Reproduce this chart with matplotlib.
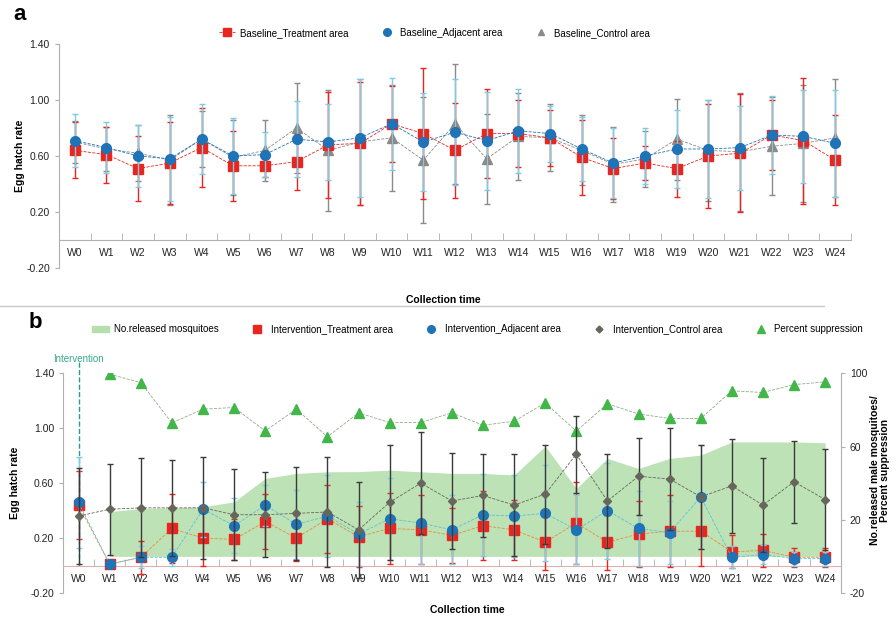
import numpy as np
import matplotlib
matplotlib.use('Agg')
import matplotlib.pyplot as plt
from matplotlib.lines import Line2D
from matplotlib.patches import Patch
from matplotlib.ticker import FixedLocator, FormatStrFormatter

plt.rcParams['font.family'] = ['Liberation Sans', 'DejaVu Sans']
plt.rcParams['axes.unicode_minus'] = False

weeks = ['W0', 'W1', 'W2', 'W3', 'W4', 'W5', 'W6', 'W7', 'W8', 'W9', 'W10', 'W11', 'W12',
         'W13', 'W14', 'W15', 'W16', 'W17', 'W18', 'W19', 'W20', 'W21', 'W22', 'W23', 'W24']

# panel a - baseline egg hatch rate (mean, error)
base_treat = [0.64, 0.61, 0.51, 0.55, 0.66, 0.53, 0.53, 0.56, 0.68, 0.69, 0.83, 0.76, 0.64,
              0.76, 0.76, 0.73, 0.59, 0.51, 0.55, 0.51, 0.60, 0.62, 0.75, 0.71, 0.57]
base_treat_err = [0.20, 0.20, 0.23, 0.29, 0.28, 0.25, 0.08, 0.20, 0.38, 0.44, 0.27, 0.47, 0.34,
                  0.32, 0.24, 0.20, 0.27, 0.22, 0.12, 0.20, 0.37, 0.42, 0.25, 0.45, 0.32]
base_adj = [0.71, 0.66, 0.60, 0.58, 0.72, 0.60, 0.61, 0.72, 0.70, 0.73, 0.83, 0.70, 0.77,
            0.71, 0.78, 0.76, 0.65, 0.55, 0.60, 0.65, 0.65, 0.66, 0.75, 0.74, 0.69]
base_adj_err = [0.19, 0.18, 0.22, 0.30, 0.25, 0.27, 0.16, 0.27, 0.27, 0.42, 0.33, 0.35, 0.38,
                0.35, 0.30, 0.20, 0.23, 0.25, 0.20, 0.28, 0.35, 0.30, 0.28, 0.33, 0.38]
base_ctrl = [0.70, 0.65, 0.62, 0.57, 0.72, 0.59, 0.64, 0.80, 0.64, 0.70, 0.73, 0.57, 0.83,
             0.58, 0.74, 0.73, 0.64, 0.54, 0.58, 0.72, 0.64, 0.63, 0.67, 0.69, 0.73]
base_ctrl_err = [0.15, 0.16, 0.20, 0.32, 0.20, 0.27, 0.22, 0.32, 0.43, 0.45, 0.38, 0.45, 0.43,
                 0.32, 0.31, 0.24, 0.25, 0.27, 0.20, 0.29, 0.36, 0.42, 0.35, 0.42, 0.42]

# panel b - intervention egg hatch rate (mean, error)
int_treat = [0.44, 0.01, 0.06, 0.27, 0.20, 0.19, 0.32, 0.20, 0.34, 0.21, 0.27, 0.26, 0.22,
             0.29, 0.26, 0.17, 0.31, 0.17, 0.23, 0.25, 0.25, 0.10, 0.11, 0.06, 0.06]
int_treat_err = [0.25, 0.02, 0.12, 0.25, 0.20, 0.15, 0.20, 0.17, 0.25, 0.22, 0.26, 0.25, 0.20,
                 0.25, 0.22, 0.20, 0.30, 0.20, 0.24, 0.26, 0.25, 0.12, 0.12, 0.07, 0.07]
int_adj = [0.46, 0.01, 0.06, 0.06, 0.41, 0.29, 0.44, 0.30, 0.36, 0.23, 0.34, 0.31, 0.26,
           0.37, 0.36, 0.38, 0.26, 0.40, 0.27, 0.24, 0.50, 0.06, 0.08, 0.05, 0.05]
int_adj_err = [0.33, 0.02, 0.08, 0.06, 0.20, 0.20, 0.15, 0.25, 0.30, 0.23, 0.30, 0.30, 0.25,
               0.30, 0.30, 0.35, 0.25, 0.35, 0.27, 0.23, 0.38, 0.08, 0.07, 0.05, 0.05]
int_ctrl = [0.36, 0.41, 0.42, 0.42, 0.42, 0.37, 0.37, 0.38, 0.39, 0.26, 0.46, 0.60, 0.47,
            0.51, 0.44, 0.52, 0.81, 0.47, 0.65, 0.63, 0.50, 0.58, 0.44, 0.61, 0.48]
int_ctrl_err = [0.35, 0.33, 0.36, 0.35, 0.37, 0.33, 0.31, 0.34, 0.40, 0.35, 0.42, 0.37, 0.35,
                0.30, 0.37, 0.36, 0.28, 0.34, 0.28, 0.37, 0.38, 0.34, 0.34, 0.30, 0.37]

# right axis, W1..W24
released = [24.4, 26.2, 26.5, 27.1, 29.8, 42.6, 45.3, 46.2, 46.3, 47.1, 46.2, 45.3,
            45.3, 44.4, 60.2, 37.1, 53.5, 48.0, 53.5, 55.3, 62.5, 62.5, 62.5, 62.0]
suppression = [99.5, 94.9, 72.9, 80.4, 81.3, 68.5, 80.4, 65.3, 78.4, 73.1, 73.1, 78.4,
               71.6, 73.8, 83.8, 68.4, 83.3, 77.8, 75.3, 75.3, 90.4, 89.5, 93.8, 95.3]

x = np.arange(len(weeks))
xr = x[1:]

RED = '#e8261f'
BLUE = '#1f73b7'
CYAN = '#7fcbe3'
GREY = '#8a8a8a'
DGREY = '#66665c'
GREEN = '#43b649'
FILL = '#b6dfae'
AXC = '#b0b0b0'
FS = 7

fig = plt.figure(figsize=(8.96, 6.19), dpi=100)
ax = fig.add_axes([0.0658, 0.567, 0.884, 0.362])
bx = fig.add_axes([0.0703, 0.042, 0.868, 0.355])


def style_axis(a):
    a.set_xlim(-0.5, 24.5)
    a.set_ylim(-0.2, 1.4)
    a.spines['top'].set_visible(False)
    a.spines['right'].set_visible(False)
    a.spines['bottom'].set_position(('data', 0))
    for s in ['left', 'bottom']:
        a.spines[s].set_color(AXC)
    a.set_xticks(x)
    a.set_xticklabels(weeks, fontsize=7.5, color='#222222')
    a.xaxis.set_minor_locator(FixedLocator(np.arange(-0.5, 25, 1)))
    a.tick_params(axis='x', which='major', length=0, pad=6)
    a.tick_params(axis='x', which='minor', length=5, direction='in', color=AXC)
    a.set_yticks([-0.2, 0.2, 0.6, 1.0, 1.4])
    a.yaxis.set_major_formatter(FormatStrFormatter('%.2f'))
    a.tick_params(axis='y', length=3, color=AXC, labelsize=7.5, labelcolor='#222222')
    a.set_ylabel('Egg hatch rate', fontsize=7.5, fontweight='bold')


# ---- panel a ----
style_axis(ax)
ax.yaxis.set_label_coords(-0.043, 0.5)
ax.errorbar(x, base_ctrl, yerr=base_ctrl_err, fmt='^', color=GREY, ecolor=GREY, ms=6.5,
            capsize=2.5, elinewidth=1, ls='--', lw=0.6, zorder=3)
ax.errorbar(x, base_treat, yerr=base_treat_err, fmt='s', color=RED, ecolor=RED, ms=7.5,
            capsize=2.5, elinewidth=1, ls='--', lw=0.6, zorder=4)
ax.errorbar(x, base_adj, yerr=base_adj_err, fmt='o', color=BLUE, ecolor=CYAN, ms=7,
            capsize=2.5, elinewidth=1, ls='--', lw=0.6, zorder=5)
leg_a = [Line2D([], [], color=RED, marker='s', ms=6, ls='--', lw=0.6),
         Line2D([], [], color=BLUE, marker='o', ms=5.5, ls='none'),
         Line2D([], [], color=GREY, marker='^', ms=5, ls='none')]
ax.legend(leg_a, ['Baseline_Treatment area', 'Baseline_Adjacent area', 'Baseline_Control area'],
          ncol=3, loc='center', bbox_to_anchor=(0.474, 1.05), frameon=False, fontsize=FS,
          columnspacing=3.2, handlelength=1.6, handletextpad=0.5)
ax.set_xlabel('Collection time', fontsize=7.5, fontweight='bold')
ax.xaxis.set_label_coords(0.485, -0.12)

# ---- panel b ----
style_axis(bx)
bx.spines['bottom'].set_color('#dcb0b0')
bx.yaxis.set_label_coords(-0.055, 0.5)
b2 = bx.twinx()
b2.set_ylim(-20, 100)
b2.set_yticks([-20, 20, 60, 100])
b2.tick_params(axis='y', length=3, color=AXC, labelsize=7.5, labelcolor='#222222')
for s in ['top', 'left', 'bottom']:
    b2.spines[s].set_visible(False)
b2.spines['right'].set_color(AXC)
b2.fill_between(xr, 0, released, color=FILL, alpha=0.9, lw=0)
b2.plot(xr, suppression, ls='--', lw=0.6, color='#8fae8a', marker='^', ms=7,
        mfc=GREEN, mec=GREEN)
bx.set_zorder(b2.get_zorder() + 1)
bx.patch.set_visible(False)

bx.errorbar(x, int_treat, yerr=int_treat_err, fmt='s', color='#e0903a', mfc=RED, mec=RED,
            ecolor=RED, ms=7.5, capsize=2.5, elinewidth=1, ls='--', lw=0.6, zorder=3)
bx.errorbar(x, int_adj, yerr=int_adj_err, fmt='o', color='#5fbfd6', mfc=BLUE, mec=BLUE,
            ecolor=CYAN, ms=7, capsize=2.5, elinewidth=1, ls='--', lw=0.6, zorder=4)
bx.errorbar(x, int_ctrl, yerr=int_ctrl_err, fmt='D', color=DGREY, ecolor='#3a3a3a', ms=4.5,
            capsize=2.5, elinewidth=1, ls='--', lw=0.6, zorder=5)
bx.axvline(0, ymin=0.125, ymax=1.06, color='#2a9d8f', ls='--', lw=1, clip_on=False)
bx.text(0, 1.47, 'Intervention', color='#3aa88a', fontsize=7, ha='center', va='bottom')
bx.set_xlabel('Collection time', fontsize=7.5, fontweight='bold')
bx.xaxis.set_label_coords(0.52, -0.055)

leg_b = [Patch(color=FILL),
         Line2D([], [], color=RED, marker='s', ms=6, ls='none'),
         Line2D([], [], color=BLUE, marker='o', ms=5.5, ls='none'),
         Line2D([], [], color=DGREY, marker='D', ms=3.5, ls='none'),
         Line2D([], [], color=GREEN, marker='^', ms=5.5, ls='none')]
bx.legend(leg_b, ['No.released mosquitoes', 'Intervention_Treatment area',
                  'Intervention_Adjacent area', 'Intervention_Control area',
                  'Percent suppression'],
          ncol=5, loc='center', bbox_to_anchor=(0.533, 1.2), frameon=False, fontsize=FS,
          columnspacing=3.05, handlelength=1.8, handleheight=0.5, handletextpad=0.5)

fig.text(880 / 896, 1 - 470 / 619, 'No.released male mosquitoes/\nPercent suppression',
         rotation=90, ha='center', va='center', fontsize=7.5, fontweight='bold',
         linespacing=1.1)

fig.text(13 / 896, 1 - 15 / 619, 'a', fontsize=16, fontweight='bold', va='center')
fig.text(29 / 896, 1 - 322 / 619, 'b', fontsize=16, fontweight='bold', va='center')
fig.add_artist(Line2D([0, 0.92], [1 - 306 / 619] * 2, color='#c8c8c8', lw=1))

fig.savefig('out.png', dpi=100)
